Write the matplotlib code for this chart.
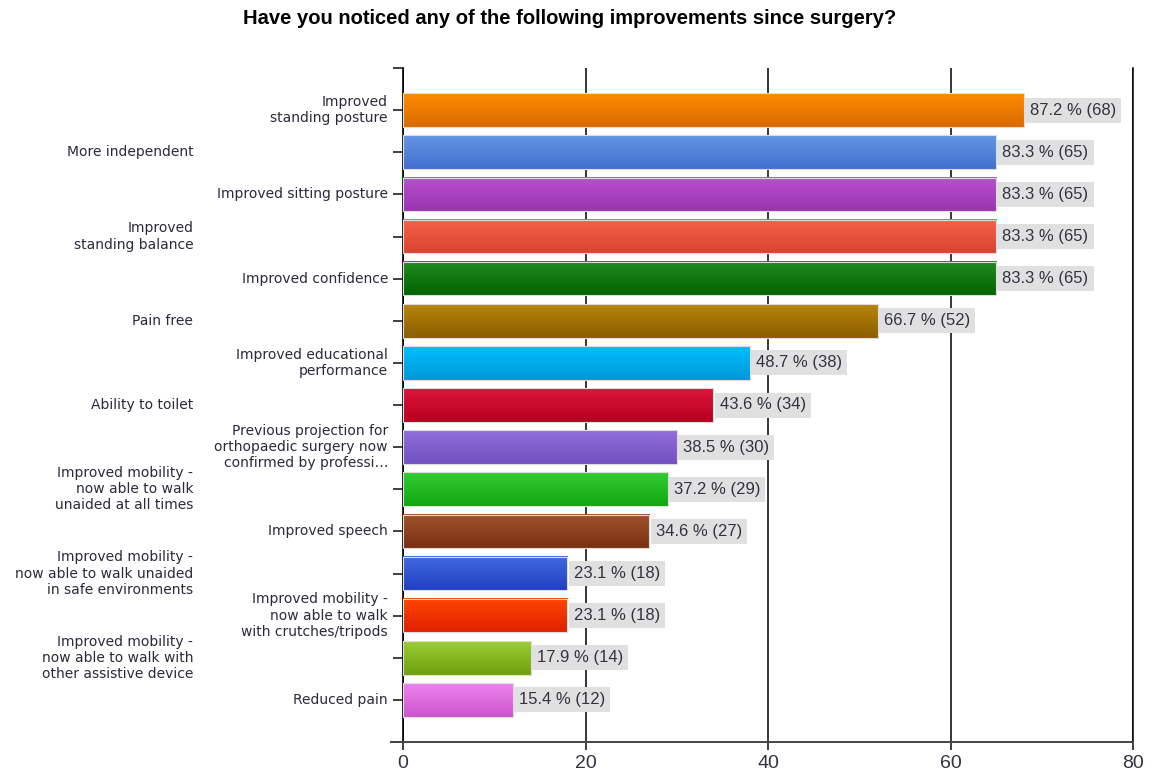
import numpy as np
import matplotlib
matplotlib.use("Agg")
import matplotlib.pyplot as plt
from matplotlib.colors import LinearSegmentedColormap

# data
categories = [
    "Improved\nstanding posture",
    "More independent",
    "Improved sitting posture",
    "Improved\nstanding balance",
    "Improved confidence",
    "Pain free",
    "Improved educational\nperformance",
    "Ability to toilet",
    "Previous projection for\northopaedic surgery now\nconfirmed by professi\u2026",
    "Improved mobility -\nnow able to walk\nunaided at all times",
    "Improved speech",
    "Improved mobility -\nnow able to walk unaided\nin safe environments",
    "Improved mobility -\nnow able to walk\nwith crutches/tripods",
    "Improved mobility -\nnow able to walk with\nother assistive device",
    "Reduced pain",
]
counts = [68, 65, 65, 65, 65, 52, 38, 34, 30, 29, 27, 18, 18, 14, 12]
percents = [87.2, 83.3, 83.3, 83.3, 83.3, 66.7, 48.7, 43.6, 38.5, 37.2, 34.6, 23.1, 23.1, 17.9, 15.4]
x_ticks = [0, 20, 40, 60, 80]

# gradient colours (top, bottom)
top_colors = ["#ff8c00", "#6695e6", "#b84fcf", "#f56048", "#228b22", "#b8860b", "#00bfff",
              "#dc143c", "#9370db", "#32cd32", "#a0522d", "#4169e1", "#ff4500", "#9acd32", "#ee82ee"]
bottom_colors = ["#d96a00", "#4070cc", "#9a35b0", "#d8452f", "#006400", "#8b5e00", "#0098d8",
                 "#b80020", "#7050c0", "#10a810", "#7a3010", "#2040c0", "#e02000", "#70a010", "#cc55cc"]

fig = plt.figure(figsize=(11.56, 7.74), dpi=100)
ax = fig.add_axes([403 / 1156, 1 - 742 / 774, (1133 - 403) / 1156, (742 - 68) / 774])

h = 0.8
grad = np.linspace(0, 1, 64).reshape(-1, 1)
for i, v in enumerate(counts):
    cmap = LinearSegmentedColormap.from_list("g%d" % i, [top_colors[i], bottom_colors[i]])
    ax.imshow(grad, extent=[0, v, i + h / 2, i - h / 2], aspect="auto", cmap=cmap,
              origin="upper", zorder=3, interpolation="bilinear")
ax.barh(range(len(counts)), counts, height=h, facecolor="none",
        edgecolor="#dcdcdc", linewidth=0.8, zorder=4)

# value labels
for i, (v, p) in enumerate(zip(counts, percents)):
    ax.annotate("%.1f %% (%d)" % (p, v), xy=(v, i), xytext=(4.5, 0), textcoords="offset points",
                ha="left", va="center", fontsize=12, family="Liberation Sans", color="#333340",
                bbox=dict(boxstyle="square,pad=0.3", facecolor="#e0e0e0", edgecolor="none"),
                zorder=5)

# category labels, alternating positions
for i, lab in enumerate(categories):
    off = 10.8 if i % 2 == 0 else 151
    ax.annotate(lab, xy=(0, i), xycoords=("axes fraction", "data"), xytext=(-off, 0),
                textcoords="offset points", ha="right", va="center", multialignment="right",
                fontsize=10, family="DejaVu Sans", color="#2a2a3a", linespacing=1.2)

ax.set_xlim(0, 80)
ax.set_ylim(15, -1)
ax.set_xticks(x_ticks)
ax.set_xticklabels([str(t) for t in x_ticks], fontsize=14, family="Liberation Sans", color="#333340")
ax.set_yticks(range(-1, 16))
ax.set_yticklabels([])
ax.tick_params(axis="y", length=7.2, width=1.2, color="#202020", direction="out")
ax.tick_params(axis="x", length=6, width=1.2, color="#202020", direction="out", pad=3)
ax.yaxis.get_major_ticks()[-1].tick1line.set_markersize(9.5)
ax.yaxis.get_major_ticks()[-1].tick1line.set_color("#444444")

ax.grid(axis="x", color="black", linewidth=1.1)
ax.set_axisbelow(True)
ax.spines["top"].set_visible(False)
ax.spines["left"].set_color("black")
ax.spines["left"].set_linewidth(1.2)
ax.spines["right"].set_color("black")
ax.spines["right"].set_linewidth(1.1)
ax.spines["bottom"].set_color("#444444")
ax.spines["bottom"].set_linewidth(1.4)

fig.text(570 / 1156, 1 - 18 / 774, "Have you noticed any of the following improvements since surgery?",
         ha="center", va="center", fontsize=14.5, fontweight="bold", family="Liberation Sans")

fig.savefig("out.png", dpi=100)
